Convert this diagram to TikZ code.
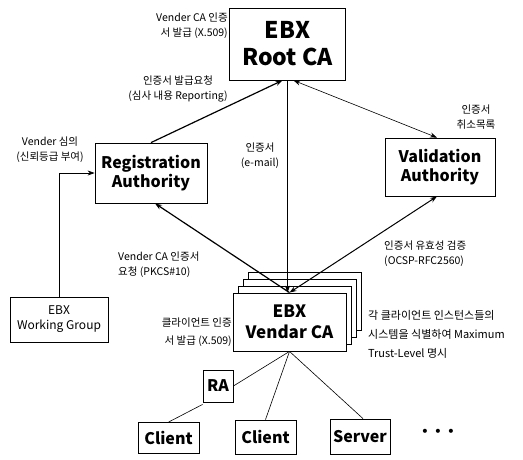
\documentclass[tikz,border=0pt]{standalone}
\usepackage{fontspec}
\setmainfont{Noto Sans CJK KR}
\newfontfamily\simbolos{DejaVu Sans}
\usetikzlibrary{arrows.meta,positioning}

\begin{document}
\begin{tikzpicture}[x=1pt, y=-1pt,
    caixa/.style={draw, line width=0.8pt, fill=white, inner sep=0pt, align=center, font=\bfseries\fontsize{16}{19}\selectfont},
    nota/.style={inner sep=0pt, font=\fontsize{10.5}{15}\selectfont},
    seta/.style={-{Stealth[length=7pt,width=5pt]}, line width=0.6pt},
    setaf/.style={seta, line width=1.2pt},
    setadupla/.style={{Stealth[length=7pt,width=5pt]}-{Stealth[length=7pt,width=5pt]}, line width=0.6pt},
    liga/.style={line width=0.6pt}
  ]
    \useasboundingbox (0,0) rectangle (523,459);
    % autoridades
    \node[caixa, minimum width=116pt, minimum height=72pt, font=\bfseries\fontsize{23}{27}\selectfont] (root) at (287.5,44) {EBX\\Root CA};
    \node[caixa, minimum width=112pt, minimum height=60pt] (ra) at (151,173) {Registration\\Authority};
    \node[caixa, minimum width=110pt, minimum height=58pt] (va) at (440,167) {Validation\\Authority};
    \node[caixa, minimum width=98pt, minimum height=45pt, font=\fontsize{12}{15}\selectfont] (wg) at (59,319.5) {EBX\\Working Group};
    % pilha de Vendor CA
    \foreach \k in {3,2,1}
      \node[caixa, minimum width=113pt, minimum height=58pt] (vca\k) at (289.5+5*\k, 322-7*\k) {};
    \node[caixa, minimum width=113pt, minimum height=58pt, font=\bfseries\fontsize{17}{21}\selectfont] (vca) at (289.5,322) {EBX\\Vendar CA};
    % clientes
    \node[caixa, minimum width=30pt, minimum height=32pt] (ra2) at (218,386) {RA};
    \node[caixa, minimum width=61pt, minimum height=31pt] (cl1) at (168.5,438) {Client};
    \node[caixa, minimum width=61pt, minimum height=34pt] (cl2) at (265.5,437) {Client};
    \node[caixa, minimum width=60pt, minimum height=35pt] (srv) at (360,436.5) {Server};
    \node[inner sep=0pt, font=\simbolos\fontsize{14}{14}\selectfont] (mais) at (438,433) {•\,\,•\,\,•};
    % textos
    \node[nota, align=right, anchor=east] (txroot) at (228,25.5) {Vender CA 인증\\서 발급 (X.509)};
    \node[nota, align=center] (txpedido) at (178,89) {인증서 발급요청\\(심사 내용 Reporting)};
    \node[nota, align=center] (txmail) at (260,156) {인증서\\(e-mail)};
    \node[nota, align=center] (txcrl) at (476,117) {인증서\\취소목록};
    \node[nota, align=center] (txvend) at (50,150) {Vender 심의\\(신뢰등급 부여)};
    \node[nota, align=left, anchor=west] (txpkcs) at (118,264.5) {Vender CA 인증서\\요청 (PKCS\#10)};
    \node[nota, align=left, anchor=west] (txocsp) at (384,253.5) {인증서 유효성 검증\\(OCSP-RFC2560)};
    \node[nota, align=right, anchor=east, font=\fontsize{10.5}{18}\selectfont] (txcli) at (232,332.5) {클라이언트 인증\\서 발급 (X.509)};
    \node[nota, align=left, anchor=west, font=\fontsize{11}{19}\selectfont] (txtrust) at (368,334) {각 클라이언트 인스턴스들의\\시스템을 식별하여 Maximum\\Trust-Level 명시};
    % ligações
    \draw[setaf] (ra.north) -- ([xshift=-5pt]root.south);
    \draw[seta] (root.south) -- (root.south |- vca.north);
    \draw[setadupla] ([xshift=6pt]root.south) -- ([xshift=-3pt]va.north);
    \draw[setaf] (vca.north) -- ([xshift=4pt]ra.south);
    \draw[setadupla, line width=1pt] (vca.north) -- ([xshift=-3pt]va.south);
    \draw[seta] (wg.north) |- (ra.west);
    \draw[liga] (vca.south) -- (ra2.east); \draw[liga] (vca.south) -- (cl2.north); \draw[liga] (vca.south) -- ([xshift=3pt]srv.north);
    \draw[liga] ([yshift=-2pt]ra2.south west) -- (cl1.north);
  \end{tikzpicture}
\end{document}
